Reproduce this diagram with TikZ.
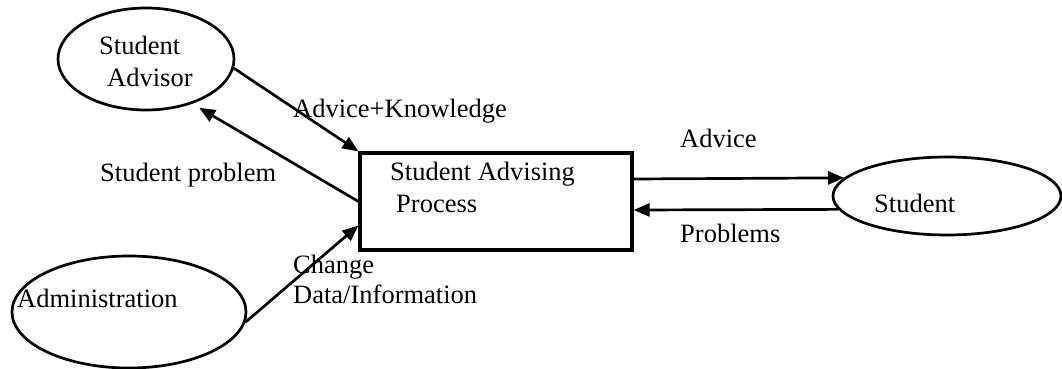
\documentclass[tikz,border=0pt]{standalone}
\usepackage{fontspec}
\setmainfont{Liberation Serif}
\usetikzlibrary{shapes.geometric,arrows.meta}
\begin{document}
\begin{tikzpicture}[x=1pt,y=-1pt,
  every node/.style={font=\fontsize{26.5}{30}\selectfont},
  bubble/.style={draw,ellipse,line width=2.7pt,inner sep=0pt},
  procbox/.style={draw,rectangle,line width=3.2pt,inner sep=0pt},
  lbl/.style={anchor=base west,inner sep=0pt},
  flow/.style={line width=2.7pt,-{Triangle[length=16pt,width=13pt]}}]
\useasboundingbox (0,0) rectangle (1062,369);
% external entities and the process
\node[bubble,minimum width=176pt,minimum height=102pt] (sa) at (146,59) {};
\node[bubble,minimum width=234pt,minimum height=112pt] (ad) at (129,312) {};
\node[bubble,minimum width=228pt,minimum height=78pt] (st) at (947,196) {};
\node[procbox,minimum width=272pt,minimum height=97pt] (pr) at (496,201.5) {};
% texts inside the shapes
\node[lbl] (saA) at (99,55) {Student};
\node[lbl] (saB) at (107,86) {Advisor};
\node[lbl] (adT) at (17,307) {Administration};
\node[lbl] (stT) at (874,212) {Student};
\node[lbl] (prA) at (390,180) {Student Advising};
\node[lbl] (prB) at (396,212) {Process};
% data flows
\draw[flow] (sa.-6) -- (pr.north west);
\draw[flow,shorten >=8pt] (pr.west) -- (sa.-44);
\draw[flow] (ad.-5) -- ([yshift=-24pt]pr.west);
\draw[flow] ([yshift=22.5pt]pr.east) -- (st.170.6);
\draw[flow] (st.187.5) -- ([yshift=-8.5pt]pr.east);
% flow labels
\node[lbl] (l1) at (293,117) {Advice+Knowledge};
\node[lbl] (l2) at (100,181) {Student problem};
\node[lbl] (l3) at (680,147) {Advice};
\node[lbl] (l4) at (680,242) {Problems};
\node[lbl] (l5) at (293,273) {Change};
\node[lbl] (l6) at (293,303) {Data/Information};
\end{tikzpicture}
\end{document}
